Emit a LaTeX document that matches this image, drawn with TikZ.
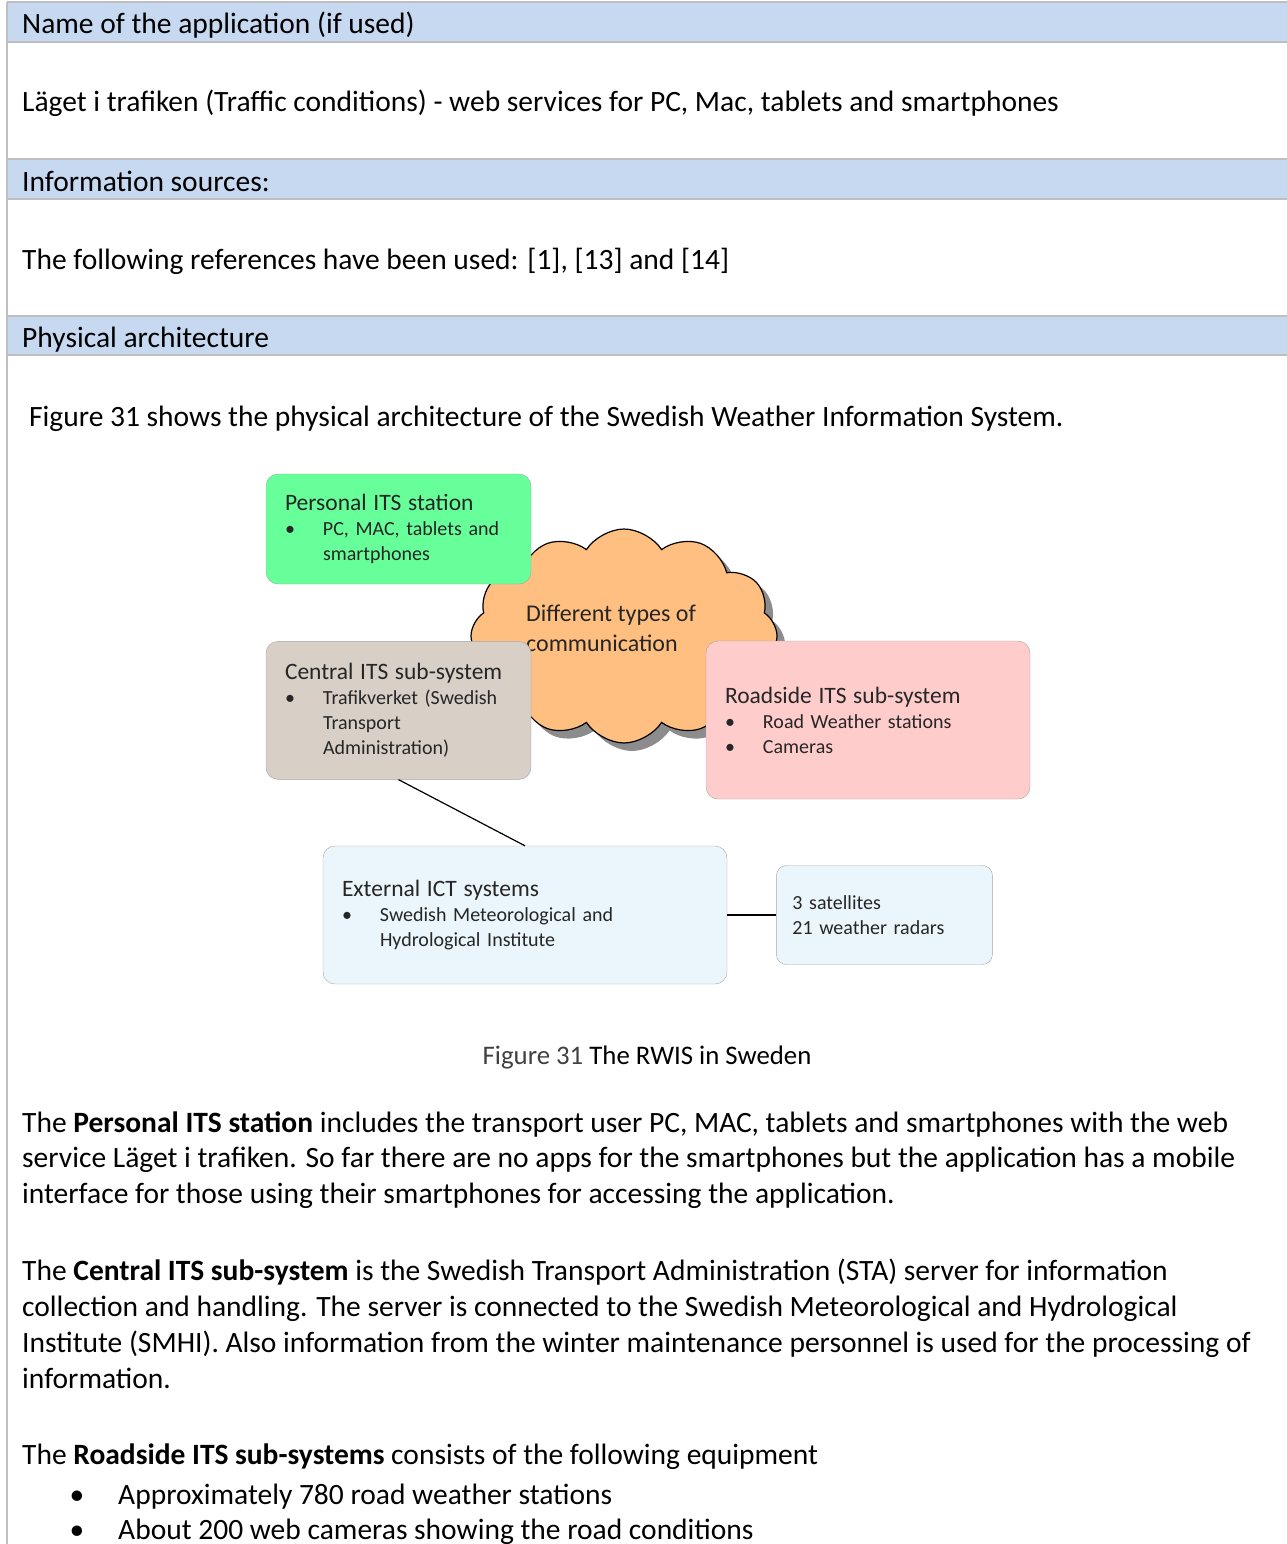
\documentclass[tikz,border=0pt]{standalone}
\usepackage{fontspec}
\setmainfont{Carlito}
\usetikzlibrary{positioning,shapes.symbols,shadows}
\definecolor{rowblue}{HTML}{C6D9F1}
\definecolor{rulegray}{HTML}{BFBFBF}
\definecolor{personalgreen}{HTML}{66FF99}
\definecolor{centraltaupe}{HTML}{D8CFC6}
\definecolor{roadsidepink}{HTML}{FFCCCC}
\definecolor{externalblue}{HTML}{EAF6FB}
\definecolor{cloudorange}{HTML}{FFBF80}
\setlength{\parindent}{0pt}
\newcommand{\bitem}[1]{\par\noindent\makebox[38pt][l]{\hspace{0pt}\textbullet}%
  \parbox[t]{\dimexpr\hsize-38pt\relax}{\raggedright #1}}
\newcommand{\boxtitle}[1]{{\fontsize{23.5}{27}\selectfont #1}}

\begin{document}
\begin{tikzpicture}[x=1pt, y=-1pt,
    rowline/.style={draw=rulegray, line width=2pt},
    txt/.style={anchor=base west, inner sep=0pt, font=\fontsize{29.5}{36}\selectfont},
    box/.style={rectangle, draw=black!35, rounded corners=12pt, align=left,
                inner xsep=19pt, inner ysep=4pt, text width=227pt,
                font=\fontsize{20}{25}\selectfont, text=black!85},
    link/.style={draw=black, line width=1.2pt}
]
  \useasboundingbox (0,0) rectangle (1287,1544);

  % Table rows
  \fill[rowblue] (7,2) rectangle (1287,42);
  \fill[rowblue] (7,159) rectangle (1287,199);
  \fill[rowblue] (7,316) rectangle (1287,355);
  \foreach \y in {2,42,159,199,316,355}
    \draw[rowline] (7,\y) -- (1287,\y);
  \draw[rowline] (7,2) -- (7,1544);

  % Table text
  \node[txt] (apphead) at (22,34) {Name of the application (if used)};
  \node[txt] (appname) at (22,112) {Läget i trafiken (Traffic conditions) - web services for PC, Mac, tablets and smartphones};
  \node[txt] (srchead) at (22,191) {Information sources:};
  \node[txt] (srctext) at (22,269) {The following references have been used: [1], [13] and [14]};
  \node[txt] (archhead) at (22,347) {Physical architecture};
  \node[txt] (archintro) at (29,426) {Figure 31 shows the physical architecture of the Swedish Weather Information System.};

  % Communication cloud
  \node[cloud, cloud puffs=12, cloud puff arc=115, draw=black, line width=1.2pt, fill=cloudorange,
        minimum width=306pt, minimum height=214pt,
        drop shadow={shadow xshift=8pt, shadow yshift=-8pt, fill=black!45, opacity=1}]
        (comm) at (624,636) {};
  \node[align=left, font=\fontsize{24}{30}\selectfont, text=black!85] (commtext) at (611,628)
        {Different types of\\communication};

  % Personal ITS station
  \node[box, fill=personalgreen, minimum height=110pt] (personal) at (398.5,529)
        {\boxtitle{Personal ITS station}\bitem{PC, MAC, tablets and\\smartphones}};

  % Central ITS sub-system
  \node[box, fill=centraltaupe, minimum height=138pt, below=57pt of personal] (central)
        {\boxtitle{Central ITS sub-system}\bitem{Trafikverket (Swedish\\Transport\\Administration)}};

  % Roadside ITS sub-system
  \node[box, fill=roadsidepink, minimum height=158pt, text width=286pt] (roadside) at (868,720)
        {\boxtitle{Roadside ITS sub-system}\bitem{Road Weather stations}\bitem{Cameras}};

  % External ICT systems
  \node[box, fill=externalblue, minimum height=138pt, text width=366pt] (external) at (525,915)
        {\boxtitle{External ICT systems}\bitem{Swedish Meteorological and\\Hydrological Institute}};

  % Satellites and radars
  \node[box, fill=externalblue, minimum height=99pt, text width=184pt, inner xsep=16pt,
        rounded corners=10pt, right=49pt of external] (sats)
        {3 satellites\\21 weather radars};

  % Links
  \draw[link] (central.south) -- (external.north);
  \draw[link, line width=2pt] (external) -- (sats);

  % Caption
  \node[anchor=base, inner sep=0pt, font=\fontsize{26.8}{36}\selectfont] (caption) at (647,1064)
        {\textcolor{black!75}{Figure 31} The RWIS in Sweden};

  % Paragraphs
  \node[txt] (pera) at (22,1132) {The \textbf{Personal ITS station} includes the transport user PC, MAC, tablets and smartphones with the web};
  \node[txt] (perb) at (22,1167) {service Läget i trafiken. So far there are no apps for the smartphones but the application has a mobile};
  \node[txt] (perc) at (22,1203) {interface for those using their smartphones for accessing the application.};
  \node[txt] (cena) at (22,1280) {The \textbf{Central ITS sub-system} is the Swedish Transport Administration (STA) server for information};
  \node[txt] (cenb) at (22,1316) {collection and handling. The server is connected to the Swedish Meteorological and Hydrological};
  \node[txt] (cenc) at (22,1352) {Institute (SMHI). Also information from the winter maintenance personnel is used for the processing of};
  \node[txt] (cend) at (22,1388) {information.};
  \node[txt] (roa) at (22,1464) {The \textbf{Roadside ITS sub-systems} consists of the following equipment};
  \node[anchor=base, inner sep=0pt, font=\fontsize{29.5}{36}\selectfont] (dota) at (77,1504) {\textbullet};
  \node[txt] (rob) at (118,1504) {Approximately 780 road weather stations};
  \node[anchor=base, inner sep=0pt, font=\fontsize{29.5}{36}\selectfont] (dotb) at (77,1539) {\textbullet};
  \node[txt] (roc) at (118,1539) {About 200 web cameras showing the road conditions};
\end{tikzpicture}
\end{document}
